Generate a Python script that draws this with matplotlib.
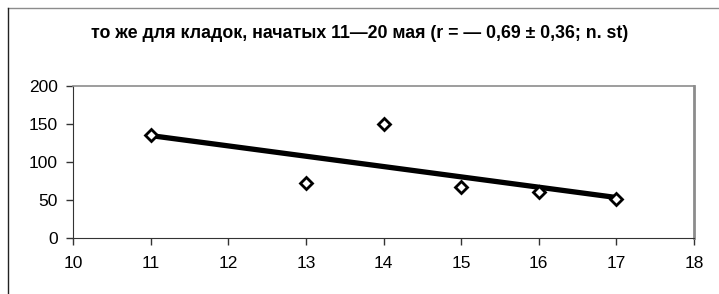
import numpy as np
import matplotlib
matplotlib.use("Agg")
import matplotlib.pyplot as plt
from matplotlib.lines import Line2D

plt.rcParams['font.family'] = ['Liberation Sans', 'DejaVu Sans']

# data
days = [11, 13, 14, 15, 16, 17]
values = [136, 72, 150, 67, 61, 51]
x_ticks = [10, 11, 12, 13, 14, 15, 16, 17, 18]
y_ticks = [0, 50, 100, 150, 200]
title = "то же для кладок, начатых 11\u201420 мая (r = \u2014 0,69 \u00b1 0,36; n. st)"

fig = plt.figure(figsize=(7.19, 2.94), dpi=100)
ax = fig.add_axes([73/719, 56/294, 621/719, 152/294])

# linear trend line
k, b = np.polyfit(days, values, 1)
tx = np.array([min(days), max(days)])
ax.plot(tx, k*tx + b, color="black", lw=3.8, solid_capstyle="butt", zorder=2)
ax.plot(days, values, linestyle="none", marker="D", markersize=6.5,
        markerfacecolor="white", markeredgecolor="black", markeredgewidth=2, zorder=3)

ax.set_xlim(10, 18)
ax.set_ylim(0, 200)
ax.set_xticks(x_ticks)
ax.set_yticks(y_ticks)
ax.tick_params(direction="out", length=5, width=1, colors="#333333", labelsize=12.5,
               labelcolor="black")
ax.tick_params(axis="x", pad=8)
ax.tick_params(axis="y", pad=6)
ax.spines["left"].set_color("#333333")
ax.spines["bottom"].set_color("#333333")
ax.spines["top"].set_color("#8c8c8c")
ax.spines["right"].set_color("#8c8c8c")
ax.spines["top"].set_linewidth(1.2)
ax.spines["right"].set_linewidth(2)

fig.text(0.5, 1 - 33/294, title, ha="center", va="center",
         fontsize=12.8, fontweight="bold")

# outer chart frame (only top and left edges visible in the crop)
fig.add_artist(Line2D([8/719, 1], [1 - 8/294, 1 - 8/294], color="#8c8c8c", lw=1,
                      transform=fig.transFigure))
fig.add_artist(Line2D([8/719, 8/719], [0, 1 - 8/294], color="#222222", lw=1,
                      transform=fig.transFigure))

fig.savefig("out.png", dpi=100)
